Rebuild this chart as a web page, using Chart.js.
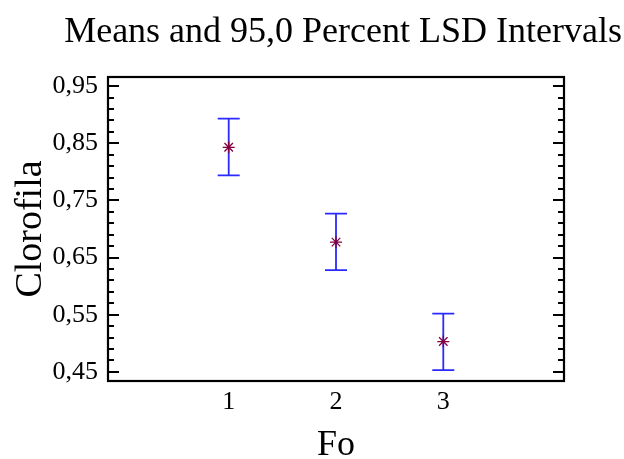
<!DOCTYPE html>
<html>
<head>
<meta charset="utf-8">
<script src="https://cdn.jsdelivr.net/npm/chart.js@4.4.1/dist/chart.umd.min.js"></script>
<style>
  html, body { margin: 0; padding: 0; background: #fff; overflow: hidden; }
  canvas { display: block; }
</style>
</head>
<body>
<canvas id="lsdChart" width="624" height="459"></canvas>
<script>
// Clorofila by Fo level: means and 95% LSD interval bounds
const levels = [1, 2, 3];
const means = [0.843, 0.677, 0.503];
const lower = [0.794, 0.628, 0.453];
const upper = [0.893, 0.727, 0.552];
const yTicks = [0.45, 0.55, 0.65, 0.75, 0.85, 0.95];
const xTicks = [1, 2, 3];

const SERIF = "'Liberation Serif', 'Times New Roman', serif";

// format 0.85 -> "0,85"
function commaNum(v, digits) {
  return v.toFixed(digits).replace('.', ',');
}

// vertical interval lines with caps, drawn under the markers
const errorBars = {
  id: 'errorBars',
  beforeDatasetsDraw(chart) {
    const ctx = chart.ctx;
    const xs = chart.scales.x;
    const ys = chart.scales.y;
    ctx.save();
    ctx.strokeStyle = '#2a2aff';
    ctx.lineWidth = 1.8;
    levels.forEach((lv, i) => {
      const px = xs.getPixelForValue(lv);
      const top = ys.getPixelForValue(upper[i]);
      const bot = ys.getPixelForValue(lower[i]);
      ctx.beginPath();
      ctx.moveTo(px, top);
      ctx.lineTo(px, bot);
      ctx.moveTo(px - 11, top);
      ctx.lineTo(px + 11, top);
      ctx.moveTo(px - 11, bot);
      ctx.lineTo(px + 11, bot);
      ctx.stroke();
    });
    ctx.restore();
  }
};

// box around the plot with inward ticks on left and right
const frame = {
  id: 'frame',
  afterDraw(chart) {
    const ctx = chart.ctx;
    const a = chart.chartArea;
    const ys = chart.scales.y;
    ctx.save();
    ctx.strokeStyle = '#000';
    ctx.lineWidth = 2;
    const minorStep = (yTicks[1] - yTicks[0]) / 5;
    ctx.beginPath();
    yTicks.forEach((v, j) => {
      const py = Math.round(ys.getPixelForValue(v));
      ctx.moveTo(a.left, py);
      ctx.lineTo(a.left + 11, py);
      ctx.moveTo(a.right, py);
      ctx.lineTo(a.right - 11, py);
      if (j < yTicks.length - 1) {
        for (let k = 1; k < 5; k++) {
          const my = Math.round(ys.getPixelForValue(v + k * minorStep));
          ctx.moveTo(a.left, my);
          ctx.lineTo(a.left + 6, my);
          ctx.moveTo(a.right, my);
          ctx.lineTo(a.right - 6, my);
        }
      }
    });
    ctx.stroke();
    ctx.lineWidth = 2.2;
    ctx.strokeRect(a.left, a.top, a.right - a.left, a.bottom - a.top);
    ctx.restore();
  }
};

const ctx = document.getElementById('lsdChart').getContext('2d');
new Chart(ctx, {
  type: 'scatter',
  data: {
    datasets: [{
      label: 'Clorofila',
      data: levels.map((lv, i) => ({ x: lv, y: means[i] })),
      pointStyle: 'star',
      pointRadius: 6,
      pointBorderWidth: 1.3,
      borderColor: '#800040',
      backgroundColor: '#800040',
      showLine: false
    }]
  },
  options: {
    responsive: false,
    animation: false,
    layout: { padding: { left: 0, right: 2, top: 0, bottom: 0 } },
    plugins: {
      legend: { display: false },
      tooltip: { enabled: false },
      title: {
        display: true,
        text: 'Means and 95,0 Percent LSD Intervals',
        align: 'end',
        color: '#000',
        font: { family: SERIF, size: 36, weight: 'normal', lineHeight: 1.2 },
        padding: { top: 11, bottom: 22.8 }
      }
    },
    scales: {
      x: {
        type: 'linear',
        position: 'bottom',
        min: -0.125,
        max: 4.125,
        afterBuildTicks: (scale) => { scale.ticks = xTicks.map(v => ({ value: v })); },
        afterFit: (scale) => { scale.height = 78; },
        grid: { display: false, drawTicks: false },
        border: { display: false },
        ticks: {
          color: '#000',
          padding: 6,
          maxRotation: 0,
          font: { family: SERIF, size: 26 },
          callback: (v) => String(v)
        },
        title: {
          display: true,
          text: 'Fo',
          color: '#000',
          font: { family: SERIF, size: 36, lineHeight: 1.2 },
          padding: { top: 0, bottom: -8 }
        }
      },
      y: {
        type: 'linear',
        position: 'left',
        min: 0.434,
        max: 0.966,
        afterBuildTicks: (scale) => { scale.ticks = yTicks.map(v => ({ value: v })); },
        afterFit: (scale) => { scale.width = 108; },
        grid: { display: false, drawTicks: false },
        border: { display: false },
        ticks: {
          color: '#000',
          padding: 10,
          font: { family: SERIF, size: 26 },
          callback: (v) => commaNum(v, 2)
        },
        title: {
          display: true,
          text: 'Clorofila',
          color: '#000',
          font: { family: SERIF, size: 38, lineHeight: 1.2 },
          padding: { top: 8, bottom: 0 }
        }
      },
      yRight: {
        type: 'linear',
        position: 'right',
        min: 0.434,
        max: 0.966,
        afterFit: (scale) => { scale.width = 58; },
        grid: { display: false, drawTicks: false },
        border: { display: false },
        ticks: { display: false }
      }
    }
  },
  plugins: [errorBars, frame]
});
</script>
</body>
</html>
